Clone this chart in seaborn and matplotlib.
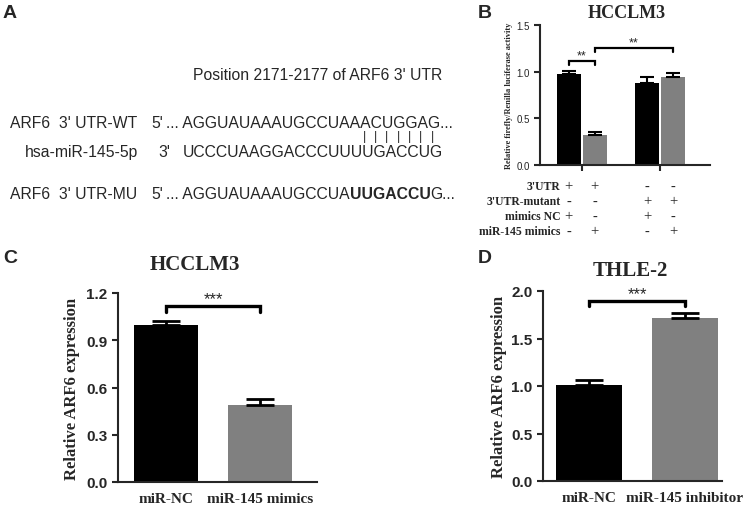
import numpy as np
import pandas as pd
import matplotlib
matplotlib.use("Agg")
import matplotlib.pyplot as plt
import seaborn as sns

# Panel B: dual luciferase
b_pos = [0, 1, 3, 4]
b_group = ["mimics NC", "miR-145 mimics", "mimics NC", "miR-145 mimics"]
b_mean = [0.98, 0.32, 0.88, 0.94]
b_err = [0.03, 0.03, 0.06, 0.05]
b_rows = ["3'UTR", "3'UTR-mutant", "mimics NC", "miR-145 mimics"]
b_signs = [["+", "+", "-", "-"],
           ["-", "-", "+", "+"],
           ["+", "-", "+", "-"],
           ["-", "+", "-", "+"]]

# Panel C: HCCLM3
c_labels = ["miR-NC", "miR-145 mimics"]
c_mean = [1.00, 0.49]
c_err = [0.025, 0.04]

# Panel D: THLE-2
d_labels = ["miR-NC", "miR-145 inhibitor"]
d_mean = [1.01, 1.72]
d_err = [0.05, 0.05]

BLACK, GREY = "#000000", "#808080"
SERIF = "Liberation Serif"
SANS = "Liberation Sans"

sns.set_style("ticks")
plt.rcParams["font.family"] = [SANS, "DejaVu Sans"]

fig = plt.figure(figsize=(7.5, 5.1), dpi=100)

# overlay in pixel coordinates for panel A and panel letters
bg = fig.add_axes([0, 0, 1, 1])
bg.set_xlim(0, 750)
bg.set_ylim(510, 0)
bg.axis("off")

for letter, (x, y) in zip("ABCD", [(10, 14), (485, 13), (10, 259), (485, 259)]):
    bg.text(x, y, letter, fontsize=14, weight="bold", ha="center", va="center")

fs = 11.3
bg.text(318, 76, "Position 2171-2177 of ARF6 3' UTR", fontsize=fs, ha="center", va="center")
bg.text(10, 124, "ARF6  3' UTR-WT", fontsize=fs, va="center")
bg.text(151, 124, "5'", fontsize=fs, va="center")
bg.text(166, 124, "... AGGUAUAAAUGCCUAAACUGGAG...", fontsize=fs, va="center")
# base-pairing marks under the seed region
for i in range(7):
    bg.text(364 + i * 11.4, 137.5, "|", fontsize=9, ha="center", va="center")
bg.text(25, 153, "hsa-miR-145-5p", fontsize=fs, va="center")
bg.text(158, 153, "3'", fontsize=fs, va="center")
bg.text(183, 153, "UCCCUAAGGACCCUUUUGACCUG", fontsize=fs, va="center")
bg.text(10, 195, "ARF6  3' UTR-MU", fontsize=fs, va="center")
bg.text(151, 195, "5'", fontsize=fs, va="center")
t1 = bg.text(166, 195, "... AGGUAUAAAUGCCUA", fontsize=fs, va="center")
t2 = bg.annotate("UUGACCU", xy=(1, 0.5), xycoords=t1, fontsize=fs, weight="bold",
                 ha="left", va="center")
bg.annotate("G...", xy=(1, 0.5), xycoords=t2, fontsize=fs, ha="left", va="center")


def style_axis(ax):
    sns.despine(ax=ax)
    for s in ["left", "bottom"]:
        ax.spines[s].set_linewidth(1.5)
    ax.tick_params(width=1.5, length=4, direction="out")


def bracket(ax, x1, x2, top, drop, label, fs, lw, gap):
    ax.plot([x1, x1, x2, x2], [drop, top, top, drop], color="black", lw=lw,
            solid_joinstyle="miter", clip_on=False)
    ax.text((x1 + x2) / 2, top + gap, label, ha="center", va="bottom",
            fontsize=fs, clip_on=False)


# ---------------- Panel B ----------------
axb = fig.add_axes([540 / 750, 1 - 166 / 510, 170 / 750, 140 / 510])
dfb = pd.DataFrame({"pos": b_pos, "group": b_group, "value": b_mean})
sns.barplot(data=dfb, x="pos", y="value", hue="group", native_scale=True,
            palette={"mimics NC": BLACK, "miR-145 mimics": GREY},
            width=0.92, linewidth=0, legend=False, ax=axb)
axb.errorbar(b_pos, b_mean, yerr=[np.zeros(4), b_err], fmt="none",
             ecolor="black", elinewidth=1.5, capsize=5, capthick=1.5)
style_axis(axb)
axb.set_xlim(-1.09, 5.4)
axb.set_ylim(0, 1.5)
axb.set_yticks([0, 0.5, 1.0, 1.5])
axb.set_yticklabels(["0.0", "0.5", "1.0", "1.5"], fontsize=7)
axb.set_xticks([0.5, 3.5])
axb.set_xticklabels([])
axb.set_xlabel("")
axb.set_ylabel("Relative firefly/Renilla luciferase activity", family=SERIF,
               weight="bold", fontsize=6)
axb.yaxis.set_label_coords(-0.16, 0.5)
axb.text(0.51, 1.03, "HCCLM3", transform=axb.transAxes, family=SERIF,
         weight="bold", fontsize=13, ha="center", va="bottom")
bracket(axb, 0, 1, 1.114, 1.07, "**", 9, 1.6, 0.0)
bracket(axb, 1, 4, 1.25, 1.21, "**", 9, 1.6, 0.0)
trans = axb.get_xaxis_transform()
for r, (row, signs) in enumerate(zip(b_rows, b_signs)):
    yy = -0.15 - r * 0.107
    axb.text(-0.3, yy, row, transform=trans, family=SERIF, weight="bold",
             fontsize=8.5, ha="right", va="center")
    for xp, sg in zip(b_pos, signs):
        axb.text(xp, yy, sg, transform=trans, family=SERIF, fontsize=10.5,
                 ha="center", va="center")


# ---------------- Panels C and D ----------------
def expr_panel(rect, labels, mean, err, ylim, yticks, xlim, title, tpos, ylab_x, top, drop):
    ax = fig.add_axes(rect)
    df = pd.DataFrame({"group": labels, "value": mean})
    sns.barplot(data=df, x="group", y="value", hue="group",
                palette=[BLACK, GREY], width=0.68, linewidth=0,
                legend=False, ax=ax)
    ax.errorbar(range(len(mean)), mean, yerr=[np.zeros(len(mean)), err],
                fmt="none", ecolor="black", elinewidth=2, capsize=10, capthick=2)
    style_axis(ax)
    ax.set_xlim(*xlim)
    ax.set_ylim(*ylim)
    ax.set_yticks(yticks)
    ax.set_yticklabels([f"{v:.1f}" for v in yticks], fontsize=11, weight="bold")
    ax.set_xticks(range(len(labels)))
    ax.set_xticklabels(labels, family=SERIF, weight="bold", fontsize=11)
    ax.tick_params(axis="x", length=0, pad=7)
    ax.set_xlabel("")
    ax.set_ylabel("Relative ARF6 expression", family=SERIF, weight="bold", fontsize=12)
    ax.yaxis.set_label_coords(ylab_x, 0.5)
    ax.text(tpos[0], tpos[1], title, transform=ax.transAxes, family=SERIF,
            weight="bold", fontsize=15, ha="center", va="center")
    bracket(ax, 0, 1, top, drop, "***", 12, 2.4, 0.0)
    return ax


expr_panel([118 / 750, 1 - 483 / 510, 199 / 750, 189 / 510], c_labels, c_mean, c_err,
           (0, 1.2), [0, 0.3, 0.6, 0.9, 1.2], (-0.51, 1.6), "HCCLM3",
           (0.387, 1.153), -0.19, 1.117, 1.08)
expr_panel([543 / 750, 1 - 482 / 510, 179 / 750, 190 / 510], d_labels, d_mean, d_err,
           (0, 2.0), [0, 0.5, 1.0, 1.5, 2.0], (-0.48, 1.386), "THLE-2",
           (0.486, 1.11), -0.2, 1.895, 1.84)

fig.savefig("out.png", dpi=100)
